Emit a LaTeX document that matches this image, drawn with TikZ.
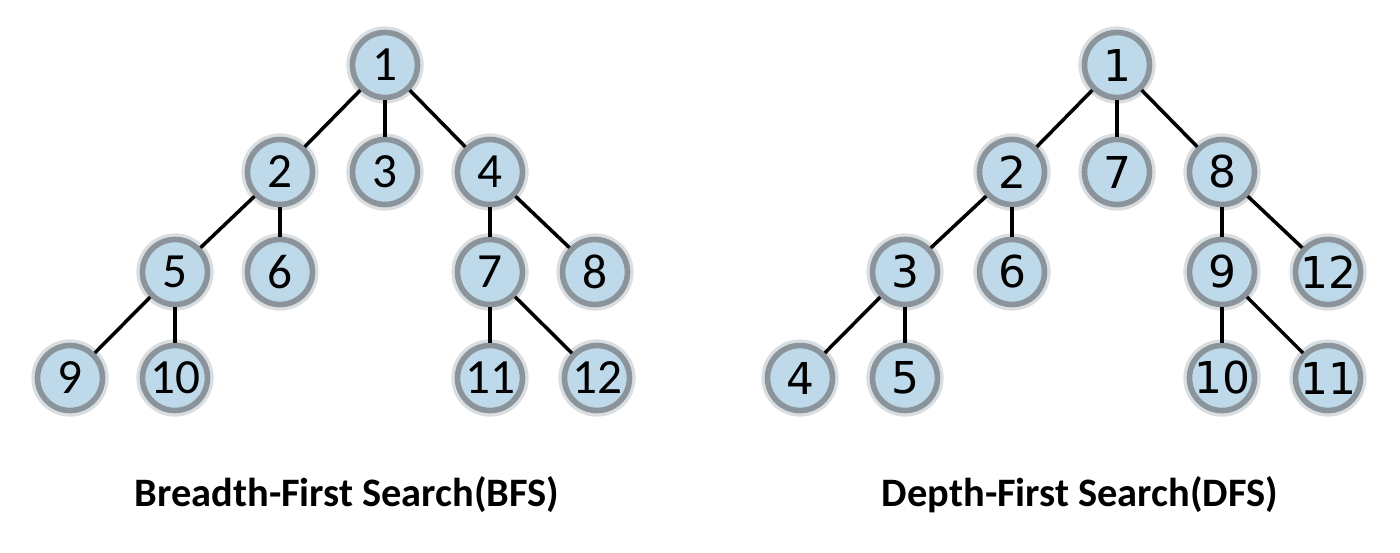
\documentclass[tikz,border=0pt]{standalone}
\usepackage{fontspec}
\setmainfont{Carlito}
\newfontfamily\dejavu{DejaVu Sans}
\usepackage{tikz}
\definecolor{nodeblue}{RGB}{190,218,234}
\definecolor{nodegray}{RGB}{138,148,154}
\definecolor{glowgray}{RGB}{218,222,224}
\tikzstyle{vertex}=[circle, draw=nodegray, line width=3.2pt, fill=nodeblue, inner sep=0pt, minimum size=1.3cm, preaction={draw=glowgray, line width=7pt}, font=\fontsize{28}{28}\selectfont]
\tikzstyle{dvertex}=[vertex, font=\dejavu\fontsize{25}{25}\selectfont]
\tikzstyle{edge}=[line width=2pt]
\tikzstyle{caption}=[font=\bfseries\fontsize{23}{23}\selectfont]

\begin{document}
\begin{tikzpicture}[x=0.02cm, y=-0.02cm]
        \useasboundingbox (0, 0) rectangle (1400, 552);
        % breadth-first tree
        \node[vertex] (b1) at (385, 65) {1};
        \node[vertex] (b2) at (280, 172) {2};
        \node[vertex] (b3) at (385, 172) {3};
        \node[vertex] (b4) at (490, 172) {4};
        \node[vertex] (b5) at (175, 272) {5};
        \node[vertex] (b6) at (280, 272) {6};
        \node[vertex] (b7) at (490, 272) {7};
        \node[vertex] (b8) at (595, 272) {8};
        \node[vertex] (b9) at (70, 378) {9};
        \node[vertex] (b10) at (175, 378) {10};
        \node[vertex] (b11) at (490, 378) {11};
        \node[vertex] (b12) at (597, 378) {12};
        \draw[edge] (b1) -- (b2);
        \draw[edge] (b1) -- (b3);
        \draw[edge] (b1) -- (b4);
        \draw[edge] (b2) -- (b5);
        \draw[edge] (b2) -- (b6);
        \draw[edge] (b4) -- (b7);
        \draw[edge] (b4) -- (b8);
        \draw[edge] (b5) -- (b9);
        \draw[edge] (b5) -- (b10);
        \draw[edge] (b7) -- (b11);
        \draw[edge] (b7) -- (b12);
        \node[caption] (bcap) at (347, 495) {Breadth-First Search(BFS)};
        % depth-first tree
        \node[dvertex] (d1) at (1117, 65) {1};
        \node[dvertex] (d2) at (1012, 172) {2};
        \node[dvertex] (d7) at (1117, 172) {7};
        \node[dvertex] (d8) at (1222, 172) {8};
        \node[dvertex] (d3) at (905, 272) {3};
        \node[dvertex] (d6) at (1012, 272) {6};
        \node[dvertex] (d9) at (1222, 272) {9};
        \node[dvertex] (d12) at (1328, 272) {12};
        \node[dvertex] (d4) at (800, 378) {4};
        \node[dvertex] (d5) at (905, 378) {5};
        \node[dvertex] (d10) at (1222, 378) {10};
        \node[dvertex] (d11) at (1328, 378) {11};
        \draw[edge] (d1) -- (d2);
        \draw[edge] (d1) -- (d7);
        \draw[edge] (d1) -- (d8);
        \draw[edge] (d2) -- (d3);
        \draw[edge] (d2) -- (d6);
        \draw[edge] (d8) -- (d9);
        \draw[edge] (d8) -- (d12);
        \draw[edge] (d3) -- (d4);
        \draw[edge] (d3) -- (d5);
        \draw[edge] (d9) -- (d10);
        \draw[edge] (d9) -- (d11);
        \node[caption] (dcap) at (1080, 495) {Depth-First Search(DFS)};
    \end{tikzpicture}
\end{document}
